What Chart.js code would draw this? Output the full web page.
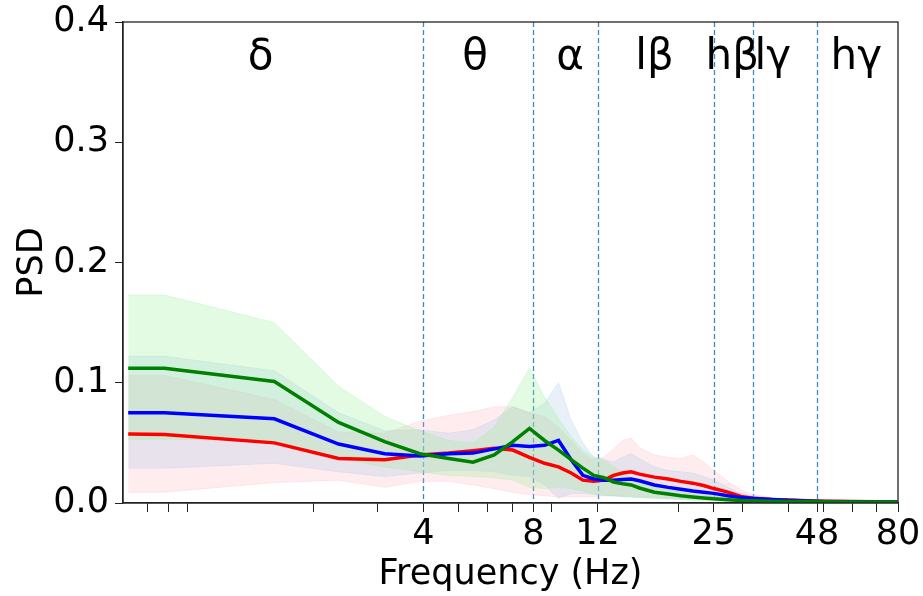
<!DOCTYPE html>
<html>
<head>
<meta charset="utf-8">
<script src="https://cdn.jsdelivr.net/npm/chart.js@4.4.0/dist/chart.umd.min.js"></script>
<style>
  html, body { margin: 0; padding: 0; background: #fff; }
  #wrap { width: 923px; height: 596px; }
</style>
</head>
<body>
<div id="wrap"><canvas id="psdChart"></canvas></div>
<script>
// frequency bins (Hz)
const freqs = [0.62, 0.78, 1.56, 2.34, 3.13, 3.91, 4.69, 5.47, 6.25, 7.03, 7.81, 8.59, 9.38, 10.16, 10.94, 11.72,
  12.5, 13.28, 14.06, 14.84, 15.63, 17.19, 18.75, 20.31, 21.88, 23.44, 25.0, 27.34, 29.69, 32.03, 35.94, 39.84,
  45.31, 50.0, 60.16, 70.31, 79.69];

const greenMean = [0.112, 0.112, 0.101, 0.067, 0.051, 0.041, 0.037, 0.034, 0.040, 0.051, 0.062, 0.052, 0.044, 0.036, 0.029, 0.023,
  0.021, 0.0175, 0.016, 0.015, 0.0125, 0.009, 0.0075, 0.006, 0.005, 0.0042, 0.0035, 0.0028, 0.002, 0.0018, 0.0015, 0.0013,
  0.0012, 0.001, 0.0009, 0.0008, 0.0008];
const greenUpper = [0.173, 0.173, 0.150, 0.097, 0.072, 0.060, 0.052, 0.050, 0.063, 0.088, 0.112, 0.088, 0.070, 0.055, 0.044, 0.038,
  0.036, 0.030, 0.026, 0.021, 0.019, 0.015, 0.011, 0.009, 0.0075, 0.0065, 0.006, 0.0045, 0.0035, 0.003, 0.0022, 0.0018,
  0.0015, 0.0012, 0.001, 0.001, 0.001];
const greenLower = [0.053, 0.053, 0.052, 0.037, 0.030, 0.026, 0.023, 0.022, 0.021, 0.019, 0.013, 0.012, 0.013, 0.012, 0.010, 0.008,
  0.007, 0.006, 0.0055, 0.005, 0.0045, 0.004, 0.0035, 0.003, 0.0025, 0.002, 0.0018, 0.0015, 0.0012, 0.001, 0.0008, 0.0007,
  0.0006, 0.0005, 0.0005, 0.0005, 0.0005];

const blueMean = [0.075, 0.075, 0.070, 0.049, 0.041, 0.039, 0.041, 0.0415, 0.045, 0.048, 0.047, 0.048, 0.052, 0.036, 0.023, 0.020,
  0.019, 0.019, 0.0195, 0.020, 0.0185, 0.015, 0.013, 0.0115, 0.010, 0.009, 0.008, 0.006, 0.0045, 0.0038, 0.003, 0.0022,
  0.0016, 0.0013, 0.001, 0.0009, 0.0008];
const blueUpper = [0.122, 0.122, 0.110, 0.075, 0.060, 0.061, 0.058, 0.061, 0.069, 0.080, 0.075, 0.083, 0.100, 0.069, 0.050, 0.038,
  0.036, 0.034, 0.038, 0.041, 0.037, 0.030, 0.027, 0.026, 0.025, 0.022, 0.019, 0.013, 0.008, 0.006, 0.0045, 0.0035,
  0.0025, 0.002, 0.0015, 0.0012, 0.001];
const blueLower = [0.029, 0.029, 0.033, 0.026, 0.022, 0.025, 0.027, 0.027, 0.026, 0.023, 0.022, 0.015, 0.004, 0.008, 0.008, 0.007,
  0.006, 0.006, 0.005, 0.005, 0.0045, 0.004, 0.0035, 0.003, 0.0027, 0.0025, 0.002, 0.0017, 0.0014, 0.0012, 0.001, 0.0008,
  0.0007, 0.0006, 0.0005, 0.0005, 0.0005];

const redMean = [0.0574, 0.057, 0.050, 0.037, 0.036, 0.040, 0.0415, 0.0435, 0.0455, 0.044, 0.038, 0.033, 0.030, 0.025, 0.019, 0.018,
  0.019, 0.023, 0.025, 0.026, 0.024, 0.0215, 0.020, 0.018, 0.0165, 0.0145, 0.012, 0.009, 0.0055, 0.004, 0.003, 0.0025,
  0.0018, 0.0015, 0.0012, 0.001, 0.001];
const redUpper = [0.106, 0.106, 0.086, 0.059, 0.058, 0.068, 0.073, 0.076, 0.080, 0.080, 0.075, 0.072, 0.063, 0.052, 0.041, 0.036,
  0.038, 0.045, 0.052, 0.054, 0.046, 0.040, 0.038, 0.037, 0.040, 0.034, 0.027, 0.018, 0.011, 0.007, 0.0045, 0.003,
  0.002, 0.0016, 0.0013, 0.0012, 0.0011];
const redLower = [0.009, 0.009, 0.017, 0.019, 0.013, 0.018, 0.018, 0.015, 0.012, 0.009, 0.007, 0.006, 0.005, 0.005, 0.005, 0.005,
  0.006, 0.006, 0.006, 0.006, 0.0055, 0.005, 0.0045, 0.004, 0.0035, 0.003, 0.0025, 0.002, 0.0015, 0.0012, 0.001, 0.0008,
  0.0007, 0.0006, 0.0006, 0.0006, 0.0006];

// frequency bands: names and where each name sits on the frequency axis
const bandNames = ['δ', 'θ', 'α', 'lβ', 'hβ', 'lγ', 'hγ'];
const bandLabelFreqs = [1.43, 5.54, 10.1, 17.2, 28.1, 36.3, 61.5];
const dashedAt = [4, 8, 12, 25, 32, 48];

const majorTicks = [4, 8, 12, 25, 48, 80];
const minorTicks = [0.7, 0.8, 0.9, 2, 3, 5, 6, 7, 9, 20, 30, 40, 50, 60, 70];
const yTicks = [0, 0.1, 0.2, 0.3, 0.4];

const FONT = "'DejaVu Sans', sans-serif";

function pts(ys) {
  return freqs.map((f, i) => ({ x: f, y: ys[i] }));
}

function meanLine(ys, color) {
  return { data: pts(ys), borderColor: color, borderWidth: 3.5, pointRadius: 0, fill: false, tension: 0 };
}

function band(upper, lower, fillColor) {
  return [
    { data: pts(upper), borderColor: fillColor, borderWidth: 1, pointRadius: 0, fill: '+1', backgroundColor: fillColor },
    { data: pts(lower), borderColor: fillColor, borderWidth: 1, pointRadius: 0, fill: false }
  ];
}

const bandPlugin = {
  id: 'bandPlugin',
  beforeDatasetsDraw(chart) {
    const { ctx, chartArea, scales } = chart;
    ctx.save();
    ctx.strokeStyle = '#3a8cc4';
    ctx.lineWidth = 1.3;
    ctx.setLineDash([5, 3]);
    dashedAt.forEach(f => {
      const x = Math.round(scales.x.getPixelForValue(f)) + 0.5;
      ctx.beginPath();
      ctx.moveTo(x, chartArea.top);
      ctx.lineTo(x, chartArea.bottom);
      ctx.stroke();
    });
    ctx.restore();
  },
  afterDatasetsDraw(chart) {
    const { ctx, chartArea, scales } = chart;
    ctx.save();
    ctx.fillStyle = '#000';
    ctx.font = '42px ' + FONT;
    ctx.textAlign = 'center';
    ctx.textBaseline = 'middle';
    const y = scales.y.getPixelForValue(0.37);
    bandNames.forEach((name, i) => {
      ctx.fillText(name, scales.x.getPixelForValue(bandLabelFreqs[i]), y);
    });
    // box around the axes
    ctx.strokeStyle = '#222';
    ctx.lineWidth = 1.3;
    ctx.strokeRect(chartArea.left, chartArea.top, chartArea.right - chartArea.left, chartArea.bottom - chartArea.top);
    ctx.restore();
  }
};

new Chart(document.getElementById('psdChart').getContext('2d'), {
  type: 'line',
  data: {
    datasets: [
      meanLine(greenMean, 'green'),
      meanLine(blueMean, 'blue'),
      meanLine(redMean, 'red'),
      ...band(greenUpper, greenLower, 'rgba(144,238,144,0.25)'),
      ...band(blueUpper, blueLower, 'rgba(173,200,230,0.28)'),
      ...band(redUpper, redLower, 'rgba(255,170,180,0.22)')
    ]
  },
  options: {
    responsive: true,
    maintainAspectRatio: false,
    animation: false,
    layout: { padding: { left: 0, right: 25, top: 22, bottom: 0 } },
    plugins: { legend: { display: false }, tooltip: { enabled: false } },
    scales: {
      x: {
        type: 'logarithmic',
        min: 0.62,
        max: 80,
        afterFit(scale) { scale.height = 93; },
        afterBuildTicks(scale) {
          scale.ticks = majorTicks.concat(minorTicks).sort((a, b) => a - b).map(v => ({ value: v }));
        },
        grid: { drawOnChartArea: false, drawTicks: true, tickLength: 9, tickColor: '#222', tickWidth: 1 },
        border: { display: true, color: '#222', width: 1.3 },
        ticks: {
          autoSkip: false,
          maxRotation: 0,
          padding: 2,
          color: '#000',
          font: { family: FONT, size: 35 },
          callback: v => majorTicks.includes(v) ? String(v) : ''
        },
        title: {
          display: true,
          text: 'Frequency (Hz)',
          color: '#000',
          font: { family: FONT, size: 35 },
          padding: { top: 0, bottom: 0 }
        }
      },
      y: {
        min: 0,
        max: 0.4,
        afterFit(scale) { scale.width = 123; },
        afterBuildTicks(scale) { scale.ticks = yTicks.map(v => ({ value: v })); },
        grid: { drawOnChartArea: false, drawTicks: true, tickLength: 8, tickColor: '#222', tickWidth: 1 },
        border: { display: true, color: '#222', width: 1.3 },
        ticks: {
          padding: 6,
          color: '#000',
          font: { family: FONT, size: 35, lineHeight: 0.8 },
          callback: v => Number(v).toFixed(1)
        },
        title: {
          display: true,
          text: 'PSD',
          color: '#000',
          font: { family: FONT, size: 35 },
          padding: { top: 12, bottom: 0 }
        }
      }
    }
  },
  plugins: [bandPlugin]
});
</script>
</body>
</html>
